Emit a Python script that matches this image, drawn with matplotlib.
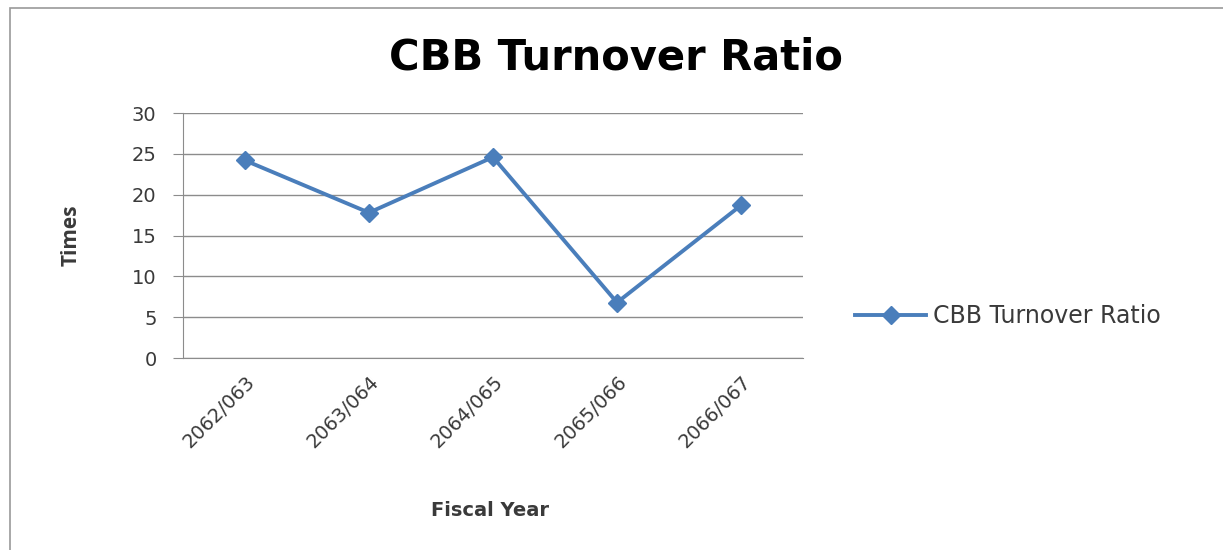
import matplotlib.pyplot as plt
from matplotlib.patches import Rectangle

years = ['2062/063', '2063/064', '2064/065', '2065/066', '2066/067']
ratio = [24.2, 17.8, 24.6, 6.8, 18.7]
y_ticks = [0, 5, 10, 15, 20, 25, 30]

BLUE = '#4a7ebb'
GRID = '#8c8c8c'
TEXT = '#3a3a3a'

plt.rcParams['font.family'] = ['DejaVu Sans']

fig = plt.figure(figsize=(12.23, 5.5), dpi=100)
fig.patches.append(Rectangle((10 / 1223, -0.01), 1.2, 1 - 8 / 550 + 0.01,
                             transform=fig.transFigure, fill=False,
                             edgecolor='#999999', lw=1.2))

ax = fig.add_axes([0.1496, 0.349, 0.507, 0.4455])
x = range(len(years))
ax.plot(x, ratio, color=BLUE, lw=2.8, marker='D', markersize=9.5,
        label='CBB Turnover Ratio')

ax.set_xlim(-0.5, len(years) - 0.5)
ax.set_ylim(0, 30)
ax.set_yticks(y_ticks)
ax.set_xticks(list(x))
ax.set_xticklabels(years, rotation=45, ha='right', rotation_mode='anchor')
ax.tick_params(axis='y', labelsize=14, labelcolor=TEXT, length=7,
               color=GRID, pad=12)
ax.tick_params(axis='x', labelsize=14, labelcolor=TEXT, length=0, pad=10)
ax.yaxis.grid(True, color=GRID, lw=1)
ax.set_axisbelow(True)
for side in ['top', 'right']:
    ax.spines[side].set_visible(False)
ax.spines['left'].set_color(GRID)
ax.spines['bottom'].set_color(GRID)

ax.set_ylabel('Times', fontsize=15, fontweight='bold', color=TEXT,
              family=['Open Sans', 'DejaVu Sans'])
ax.yaxis.set_label_coords(-0.163, 0.5)
fig.text(490 / 1223, 1 - 511 / 550, 'Fiscal Year', fontsize=14,
         fontweight='bold', color=TEXT, ha='center', va='center')
fig.text(616 / 1223, 1 - 57 / 550, 'CBB Turnover Ratio', fontsize=30,
         fontweight='bold', color='black', ha='center', va='center')

ax.legend(loc='center left', bbox_to_anchor=(1.05, 0.17), frameon=False,
          fontsize=17, labelcolor=TEXT, handlelength=3.0, handletextpad=0.3)

fig.savefig('out.png', dpi=100)
